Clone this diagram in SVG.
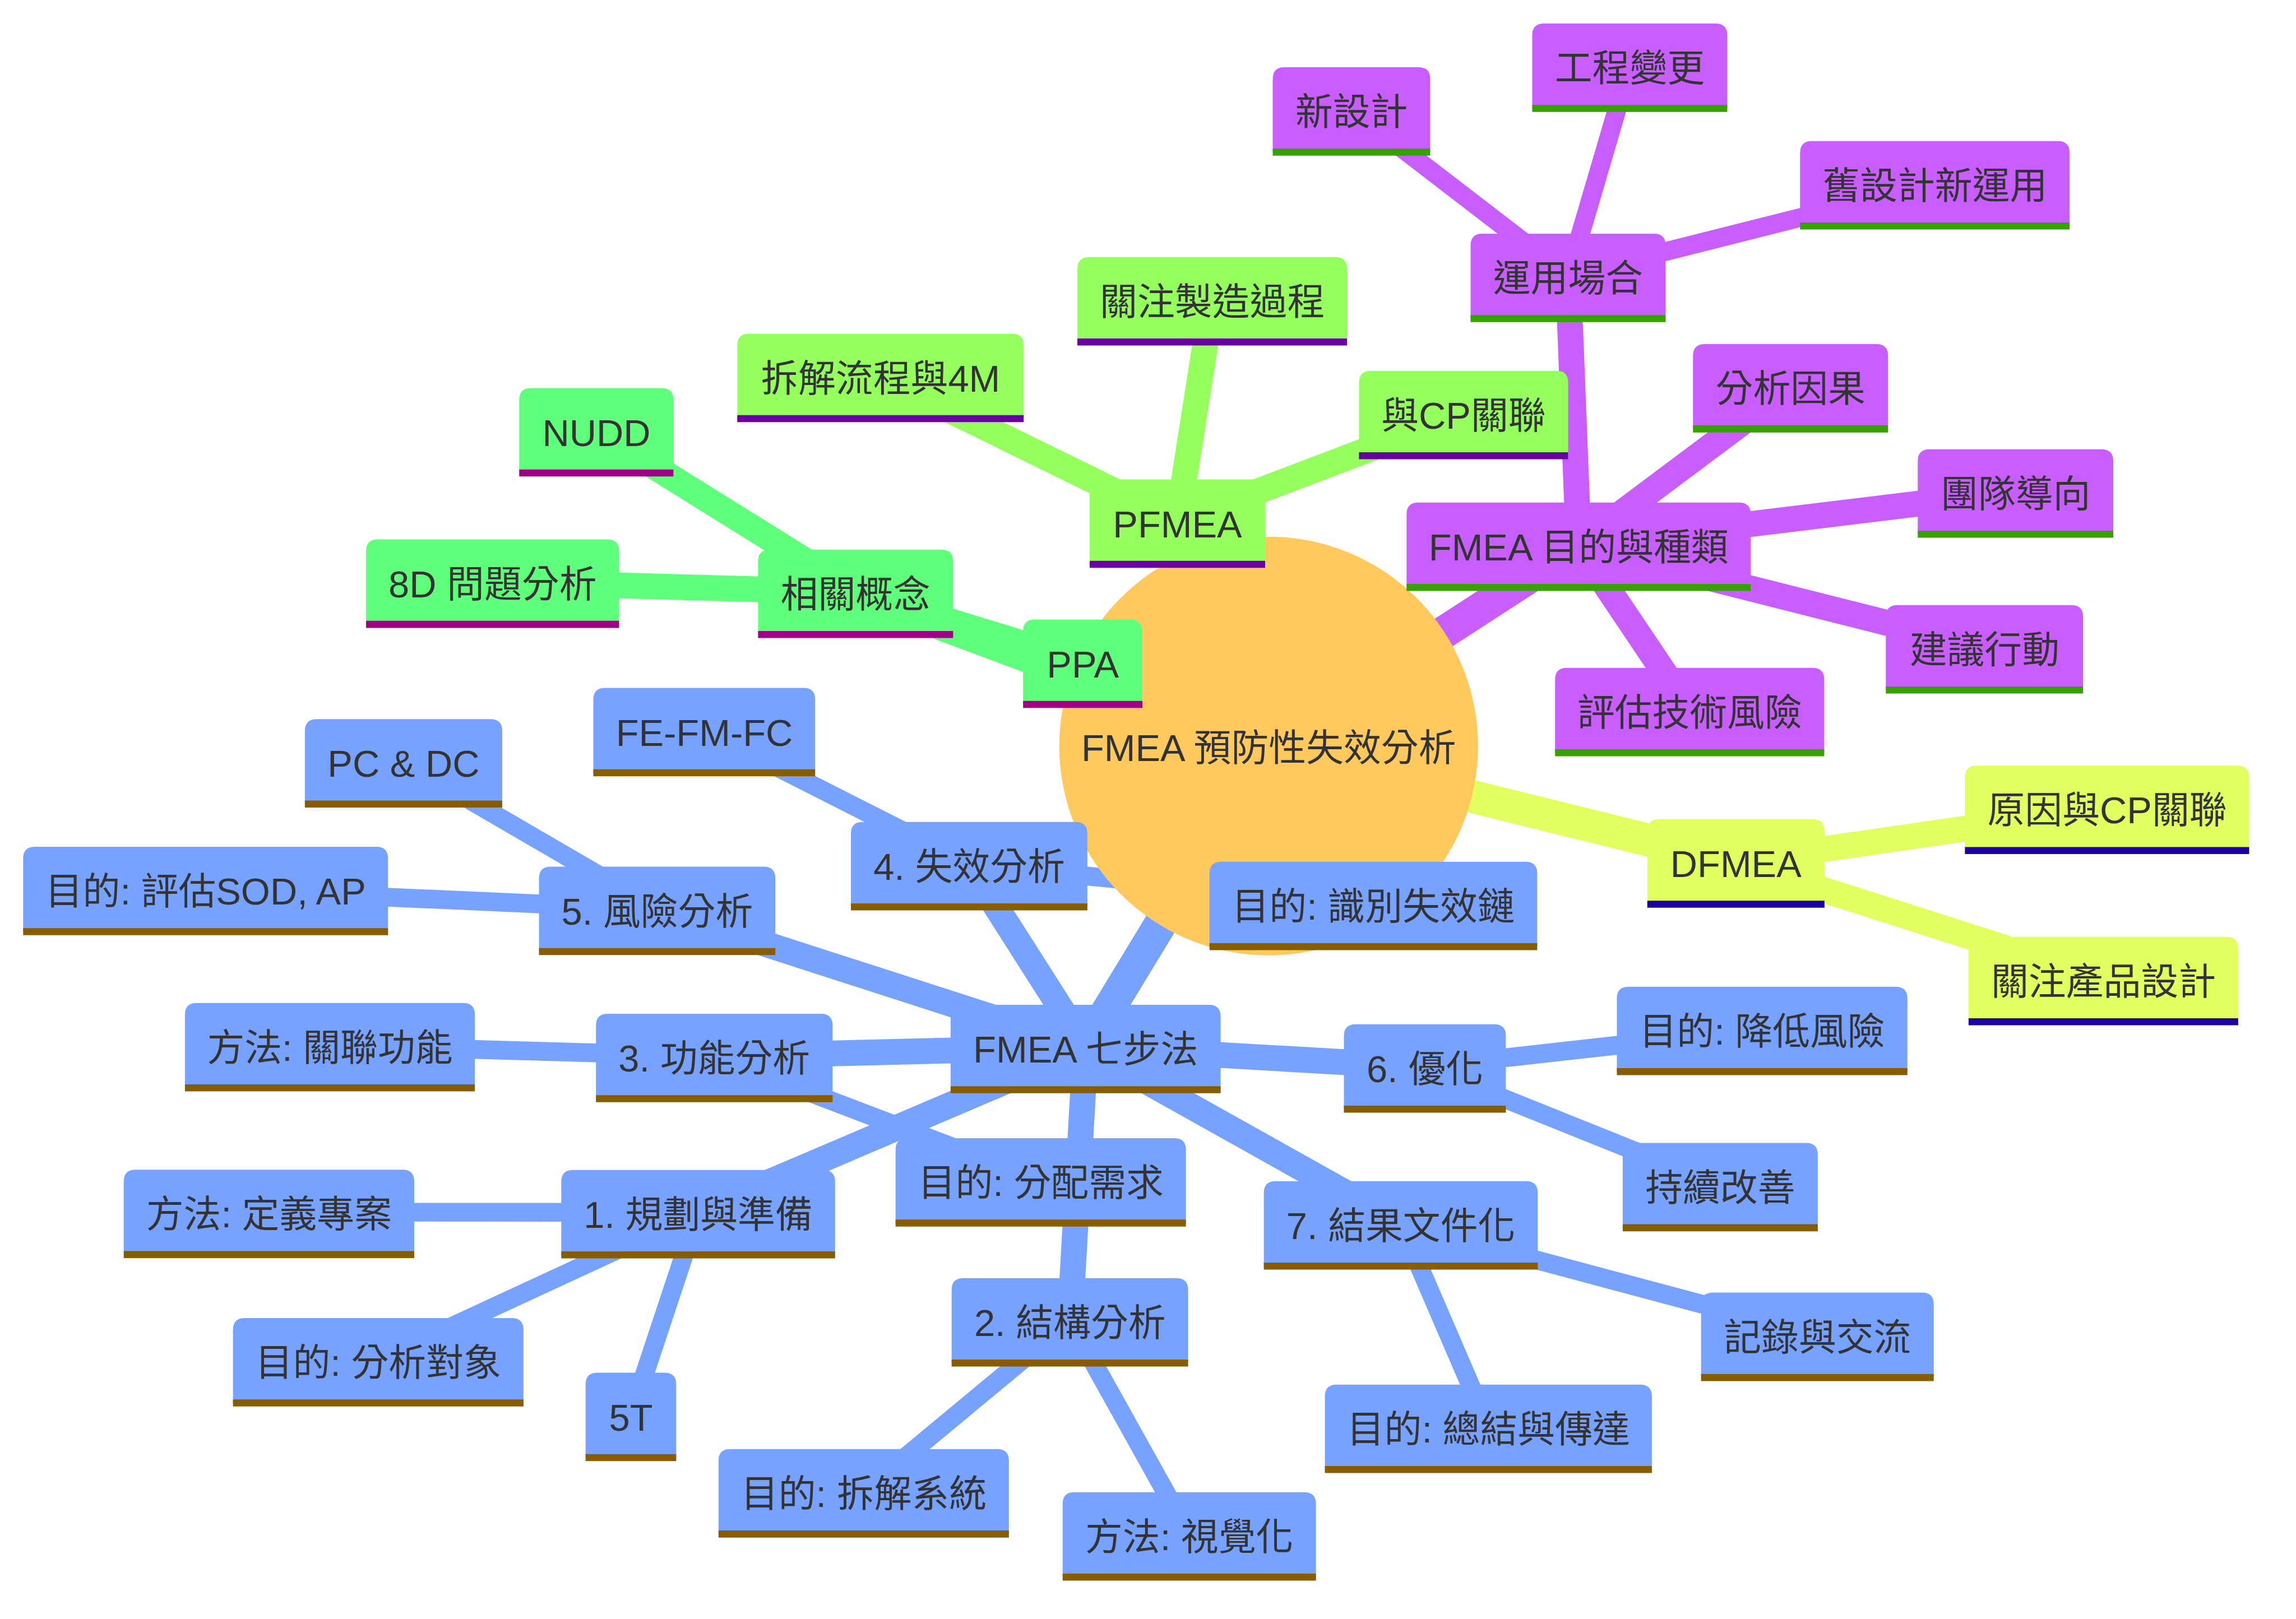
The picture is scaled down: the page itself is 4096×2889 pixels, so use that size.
<svg xmlns="http://www.w3.org/2000/svg" width="4096" height="2889" viewBox="0 0 4096 2889">
<style>
text{font-family:"Liberation Sans","Noto Sans CJK TC",sans-serif;font-size:25.6px;fill:#333333;text-anchor:middle}
.edge{fill:none;stroke-linecap:butt}
.e0{stroke-width:22.4}.e1{stroke-width:17.6}.e2{stroke-width:12.8}
.cb{stroke:#78A2FF}.cp{stroke:#C95EFF}.cl{stroke:#95FF5E}.cg{stroke:#5FFF7C}.cy{stroke:#E1FF5E}
.node line{stroke-width:4.8}
.sb path{fill:#78A2FF}.sb line{stroke:#875D00}
.sp path{fill:#C95EFF}.sp line{stroke:#36A100}
.sl path{fill:#95FF5E}.sl line{stroke:#6A00A1}
.sg path{fill:#5FFF7C}.sg line{stroke:#A00083}
.sy path{fill:#E1FF5E}.sy line{stroke:#1E00A1}
</style>
<rect x="0" y="0" width="4096" height="2889" fill="#FFFFFF"/>
<g transform="scale(2.612245)">
<g id="connectors">
<line class="edge e0 cp" x1="866.4" y1="509.6" x2="1078.1" y2="372.3"/>
<line class="edge e0 cl" x1="866.4" y1="509.6" x2="804.1" y2="356.5"/>
<line class="edge e0 cg" x1="866.4" y1="509.6" x2="584.3" y2="404.4"/>
<line class="edge e0 cy" x1="866.4" y1="509.6" x2="1185.5" y2="588.7"/>
<line class="edge e0 cb" x1="866.4" y1="509.6" x2="741.4" y2="715.4"/>
<line class="edge e1 cp" x1="1078.1" y1="372.3" x2="1070.9" y2="188.6"/>
<line class="edge e1 cp" x1="1078.1" y1="372.3" x2="1222.8" y2="264.0"/>
<line class="edge e1 cp" x1="1078.1" y1="372.3" x2="1376.5" y2="335.9"/>
<line class="edge e1 cp" x1="1078.1" y1="372.3" x2="1355.3" y2="442.3"/>
<line class="edge e1 cp" x1="1078.1" y1="372.3" x2="1153.9" y2="485.2"/>
<line class="edge e2 cp" x1="1070.9" y1="188.6" x2="923.0" y2="74.9"/>
<line class="edge e2 cp" x1="1070.9" y1="188.6" x2="1113.0" y2="45.1"/>
<line class="edge e2 cp" x1="1070.9" y1="188.6" x2="1321.4" y2="125.4"/>
<line class="edge e1 cl" x1="804.1" y1="356.5" x2="827.9" y2="204.6"/>
<line class="edge e1 cl" x1="804.1" y1="356.5" x2="601.3" y2="257.0"/>
<line class="edge e1 cl" x1="804.1" y1="356.5" x2="999.5" y2="282.3"/>
<line class="edge e1 cg" x1="584.3" y1="404.4" x2="407.3" y2="294.1"/>
<line class="edge e1 cg" x1="584.3" y1="404.4" x2="336.4" y2="397.5"/>
<line class="edge e1 cg" x1="584.3" y1="404.4" x2="739.5" y2="452.2"/>
<line class="edge e1 cy" x1="1185.5" y1="588.7" x2="1439.0" y2="552.0"/>
<line class="edge e1 cy" x1="1185.5" y1="588.7" x2="1436.5" y2="669.0"/>
<line class="edge e1 cb" x1="741.4" y1="715.4" x2="476.8" y2="828.2"/>
<line class="edge e1 cb" x1="741.4" y1="715.4" x2="730.7" y2="902.1"/>
<line class="edge e1 cb" x1="741.4" y1="715.4" x2="487.8" y2="721.5"/>
<line class="edge e1 cb" x1="741.4" y1="715.4" x2="661.9" y2="590.5"/>
<line class="edge e1 cb" x1="741.4" y1="715.4" x2="448.8" y2="621.0"/>
<line class="edge e1 cb" x1="741.4" y1="715.4" x2="973.1" y2="728.7"/>
<line class="edge e1 cb" x1="741.4" y1="715.4" x2="956.7" y2="835.9"/>
<line class="edge e2 cb" x1="476.8" y1="828.2" x2="183.7" y2="828.0"/>
<line class="edge e2 cb" x1="476.8" y1="828.2" x2="258.3" y2="929.4"/>
<line class="edge e2 cb" x1="476.8" y1="828.2" x2="430.9" y2="966.7"/>
<line class="edge e2 cb" x1="730.7" y1="902.1" x2="589.9" y2="1018.9"/>
<line class="edge e2 cb" x1="730.7" y1="902.1" x2="812.2" y2="1048.3"/>
<line class="edge e2 cb" x1="487.8" y1="721.5" x2="225.3" y2="714.1"/>
<line class="edge e2 cb" x1="487.8" y1="721.5" x2="710.8" y2="806.5"/>
<line class="edge e2 cb" x1="661.9" y1="590.5" x2="481.0" y2="498.9"/>
<line class="edge e2 cb" x1="661.9" y1="590.5" x2="937.9" y2="617.7"/>
<line class="edge e2 cb" x1="448.8" y1="621.0" x2="275.6" y2="520.2"/>
<line class="edge e2 cb" x1="448.8" y1="621.0" x2="140.4" y2="607.4"/>
<line class="edge e2 cb" x1="973.1" y1="728.7" x2="1203.4" y2="703.0"/>
<line class="edge e2 cb" x1="973.1" y1="728.7" x2="1174.8" y2="809.7"/>
<line class="edge e2 cb" x1="956.7" y1="835.9" x2="1241.2" y2="912.0"/>
<line class="edge e2 cb" x1="956.7" y1="835.9" x2="1016.5" y2="974.8"/>
</g>
<g id="root">
<circle cx="866.4" cy="509.6" r="143" fill="#FFC95E"/>
<text x="866.4" y="520">FMEA 預防性失效分析</text>
</g>
<g id="n-purpose" class="node sp"><path d="M960.6,401.3V351.3Q960.6,343.3 968.6,343.3H1187.6Q1195.6,343.3 1195.6,351.3V401.3Z"/><line x1="960.6" y1="401.3" x2="1195.6" y2="401.3"/><text x="1078.1" y="382.8">FMEA 目的與種類</text></g>
<g id="n-usage" class="node sp"><path d="M1004.3,217.6V167.6Q1004.3,159.6 1012.3,159.6H1129.5Q1137.5,159.6 1137.5,167.6V217.6Z"/><line x1="1004.3" y1="217.6" x2="1137.5" y2="217.6"/><text x="1070.9" y="199.1">運用場合</text></g>
<g id="n-newdesign" class="node sp"><path d="M869.2,103.9V53.9Q869.2,45.9 877.2,45.9H968.7Q976.7,45.9 976.7,53.9V103.9Z"/><line x1="869.2" y1="103.9" x2="976.7" y2="103.9"/><text x="923.0" y="85.4">新設計</text></g>
<g id="n-ecn" class="node sp"><path d="M1046.4,74.1V24.1Q1046.4,16.1 1054.4,16.1H1171.6Q1179.6,16.1 1179.6,24.1V74.1Z"/><line x1="1046.4" y1="74.1" x2="1179.6" y2="74.1"/><text x="1113.0" y="55.6">工程變更</text></g>
<g id="n-olddesign" class="node sp"><path d="M1229.3,154.4V104.4Q1229.3,96.4 1237.3,96.4H1405.4Q1413.4,96.4 1413.4,104.4V154.4Z"/><line x1="1229.3" y1="154.4" x2="1413.4" y2="154.4"/><text x="1321.4" y="135.9">舊設計新運用</text></g>
<g id="n-cause" class="node sp"><path d="M1156.2,293V243Q1156.2,235 1164.2,235H1281.4Q1289.4,235 1289.4,243V293Z"/><line x1="1156.2" y1="293" x2="1289.4" y2="293"/><text x="1222.8" y="274.5">分析因果</text></g>
<g id="n-team" class="node sp"><path d="M1309.7,364.9V314.9Q1309.7,306.9 1317.7,306.9H1435.2Q1443.2,306.9 1443.2,314.9V364.9Z"/><line x1="1309.7" y1="364.9" x2="1443.2" y2="364.9"/><text x="1376.5" y="346.4">團隊導向</text></g>
<g id="n-action" class="node sp"><path d="M1287.9,471.3V421.3Q1287.9,413.3 1295.9,413.3H1414.6Q1422.6,413.3 1422.6,421.3V471.3Z"/><line x1="1287.9" y1="471.3" x2="1422.6" y2="471.3"/><text x="1355.3" y="452.8">建議行動</text></g>
<g id="n-techrisk" class="node sp"><path d="M1062,514.2V464.2Q1062,456.2 1070,456.2H1237.8Q1245.8,456.2 1245.8,464.2V514.2Z"/><line x1="1062" y1="514.2" x2="1245.8" y2="514.2"/><text x="1153.9" y="495.7">評估技術風險</text></g>
<g id="n-pfmea" class="node sl"><path d="M744.2,385.5V335.5Q744.2,327.5 752.2,327.5H856Q864,327.5 864,335.5V385.5Z"/><line x1="744.2" y1="385.5" x2="864" y2="385.5"/><text x="804.1" y="367.0">PFMEA</text></g>
<g id="n-mfg" class="node sl"><path d="M735.8,233.6V183.6Q735.8,175.6 743.8,175.6H911.9Q919.9,175.6 919.9,183.6V233.6Z"/><line x1="735.8" y1="233.6" x2="919.9" y2="233.6"/><text x="827.9" y="215.1">關注製造過程</text></g>
<g id="n-4m" class="node sl"><path d="M503.5,286V236Q503.5,228 511.5,228H691.1Q699.1,228 699.1,236V286Z"/><line x1="503.5" y1="286" x2="699.1" y2="286"/><text x="601.3" y="267.5">拆解流程與4M</text></g>
<g id="n-cp1" class="node sl"><path d="M928.1,311.3V261.3Q928.1,253.3 936.1,253.3H1062.9Q1070.9,253.3 1070.9,261.3V311.3Z"/><line x1="928.1" y1="311.3" x2="1070.9" y2="311.3"/><text x="999.5" y="292.8">與CP關聯</text></g>
<g id="n-related" class="node sg"><path d="M517.7,433.4V383.4Q517.7,375.4 525.7,375.4H642.9Q650.9,375.4 650.9,383.4V433.4Z"/><line x1="517.7" y1="433.4" x2="650.9" y2="433.4"/><text x="584.3" y="414.9">相關概念</text></g>
<g id="n-nudd" class="node sg"><path d="M354.6,323.1V273.1Q354.6,265.1 362.6,265.1H451.9Q459.9,265.1 459.9,273.1V323.1Z"/><line x1="354.6" y1="323.1" x2="459.9" y2="323.1"/><text x="407.3" y="304.6">NUDD</text></g>
<g id="n-8d" class="node sg"><path d="M250,426.5V376.5Q250,368.5 258,368.5H414.8Q422.8,368.5 422.8,376.5V426.5Z"/><line x1="250" y1="426.5" x2="422.8" y2="426.5"/><text x="336.4" y="408.0">8D 問題分析</text></g>
<g id="n-ppa" class="node sg"><path d="M698.7,481.2V431.2Q698.7,423.2 706.7,423.2H772.2Q780.2,423.2 780.2,431.2V481.2Z"/><line x1="698.7" y1="481.2" x2="780.2" y2="481.2"/><text x="739.5" y="462.7">PPA</text></g>
<g id="n-dfmea" class="node sy"><path d="M1125,617.7V567.7Q1125,559.7 1133,559.7H1238Q1246,559.7 1246,567.7V617.7Z"/><line x1="1125" y1="617.7" x2="1246" y2="617.7"/><text x="1185.5" y="599.2">DFMEA</text></g>
<g id="n-cp2" class="node sy"><path d="M1341.9,581V531Q1341.9,523 1349.9,523H1528Q1536,523 1536,531V581Z"/><line x1="1341.9" y1="581" x2="1536" y2="581"/><text x="1439.0" y="562.5">原因與CP關聯</text></g>
<g id="n-product" class="node sy"><path d="M1344.4,698V648Q1344.4,640 1352.4,640H1520.5Q1528.5,640 1528.5,648V698Z"/><line x1="1344.4" y1="698" x2="1528.5" y2="698"/><text x="1436.5" y="679.5">關注產品設計</text></g>
<g id="n-7steps" class="node sb"><path d="M649.2,744.4V694.4Q649.2,686.4 657.2,686.4H825.6Q833.6,686.4 833.6,694.4V744.4Z"/><line x1="649.2" y1="744.4" x2="833.6" y2="744.4"/><text x="741.4" y="725.9">FMEA 七步法</text></g>
<g id="n-s1" class="node sb"><path d="M383.3,857.2V807.2Q383.3,799.2 391.3,799.2H562.3Q570.3,799.2 570.3,807.2V857.2Z"/><line x1="383.3" y1="857.2" x2="570.3" y2="857.2"/><text x="476.8" y="838.7">1. 規劃與準備</text></g>
<g id="n-s1a" class="node sb"><path d="M84.5,857V807Q84.5,799 92.5,799H274.9Q282.9,799 282.9,807V857Z"/><line x1="84.5" y1="857" x2="282.9" y2="857"/><text x="183.7" y="838.5">方法: 定義專案</text></g>
<g id="n-s1b" class="node sb"><path d="M159.1,958.4V908.4Q159.1,900.4 167.1,900.4H349.5Q357.5,900.4 357.5,908.4V958.4Z"/><line x1="159.1" y1="958.4" x2="357.5" y2="958.4"/><text x="258.3" y="939.9">目的: 分析對象</text></g>
<g id="n-s1c" class="node sb"><path d="M399.9,995.7V945.7Q399.9,937.7 407.9,937.7H453.8Q461.8,937.7 461.8,945.7V995.7Z"/><line x1="399.9" y1="995.7" x2="461.8" y2="995.7"/><text x="430.9" y="977.2">5T</text></g>
<g id="n-s2" class="node sb"><path d="M649.9,931.1V881.1Q649.9,873.1 657.9,873.1H803.4Q811.4,873.1 811.4,881.1V931.1Z"/><line x1="649.9" y1="931.1" x2="811.4" y2="931.1"/><text x="730.7" y="912.6">2. 結構分析</text></g>
<g id="n-s2a" class="node sb"><path d="M490.7,1047.9V997.9Q490.7,989.9 498.7,989.9H681Q689,989.9 689,997.9V1047.9Z"/><line x1="490.7" y1="1047.9" x2="689" y2="1047.9"/><text x="589.9" y="1029.4">目的: 拆解系統</text></g>
<g id="n-s2b" class="node sb"><path d="M725.7,1077.3V1027.3Q725.7,1019.3 733.7,1019.3H890.7Q898.7,1019.3 898.7,1027.3V1077.3Z"/><line x1="725.7" y1="1077.3" x2="898.7" y2="1077.3"/><text x="812.2" y="1058.8">方法: 視覺化</text></g>
<g id="n-s3" class="node sb"><path d="M407,750.5V700.5Q407,692.5 415,692.5H560.6Q568.6,692.5 568.6,700.5V750.5Z"/><line x1="407" y1="750.5" x2="568.6" y2="750.5"/><text x="487.8" y="732.0">3. 功能分析</text></g>
<g id="n-s3a" class="node sb"><path d="M126.3,743.1V693.1Q126.3,685.1 134.3,685.1H316.3Q324.3,685.1 324.3,693.1V743.1Z"/><line x1="126.3" y1="743.1" x2="324.3" y2="743.1"/><text x="225.3" y="724.6">方法: 關聯功能</text></g>
<g id="n-s3b" class="node sb"><path d="M611.6,835.5V785.5Q611.6,777.5 619.6,777.5H801.9Q809.9,777.5 809.9,785.5V835.5Z"/><line x1="611.6" y1="835.5" x2="809.9" y2="835.5"/><text x="710.8" y="817.0">目的: 分配需求</text></g>
<g id="n-s4" class="node sb"><path d="M581.1,619.5V569.5Q581.1,561.5 589.1,561.5H734.6Q742.6,561.5 742.6,569.5V619.5Z"/><line x1="581.1" y1="619.5" x2="742.6" y2="619.5"/><text x="661.9" y="601.0">4. 失效分析</text></g>
<g id="n-s4a" class="node sb"><path d="M405.2,527.9V477.9Q405.2,469.9 413.2,469.9H548.7Q556.7,469.9 556.7,477.9V527.9Z"/><line x1="405.2" y1="527.9" x2="556.7" y2="527.9"/><text x="481.0" y="509.4">FE-FM-FC</text></g>
<g id="n-s4b" class="node sb"><path d="M826,646.7V596.7Q826,588.7 834,588.7H1041.8Q1049.8,588.7 1049.8,596.7V646.7Z"/><line x1="826" y1="646.7" x2="1049.8" y2="646.7"/><text x="937.9" y="628.2">目的: 識別失效鏈</text></g>
<g id="n-s5" class="node sb"><path d="M368.1,650V600Q368.1,592 376.1,592H521.5Q529.5,592 529.5,600V650Z"/><line x1="368.1" y1="650" x2="529.5" y2="650"/><text x="448.8" y="631.5">5. 風險分析</text></g>
<g id="n-s5a" class="node sb"><path d="M208.2,549.2V499.2Q208.2,491.2 216.2,491.2H335Q343,491.2 343,499.2V549.2Z"/><line x1="208.2" y1="549.2" x2="343" y2="549.2"/><text x="275.6" y="530.7">PC &amp; DC</text></g>
<g id="n-s5b" class="node sb"><path d="M15.8,636.4V586.4Q15.8,578.4 23.8,578.4H257Q265,578.4 265,586.4V636.4Z"/><line x1="15.8" y1="636.4" x2="265" y2="636.4"/><text x="140.4" y="617.9">目的: 評估SOD, AP</text></g>
<g id="n-s6" class="node sb"><path d="M917.8,757.7V707.7Q917.8,699.7 925.8,699.7H1020.4Q1028.4,699.7 1028.4,707.7V757.7Z"/><line x1="917.8" y1="757.7" x2="1028.4" y2="757.7"/><text x="973.1" y="739.2">6. 優化</text></g>
<g id="n-s6a" class="node sb"><path d="M1104.2,732V682Q1104.2,674 1112.2,674H1294.6Q1302.6,674 1302.6,682V732Z"/><line x1="1104.2" y1="732" x2="1302.6" y2="732"/><text x="1203.4" y="713.5">目的: 降低風險</text></g>
<g id="n-s6b" class="node sb"><path d="M1108.2,838.7V788.7Q1108.2,780.7 1116.2,780.7H1233.4Q1241.4,780.7 1241.4,788.7V838.7Z"/><line x1="1108.2" y1="838.7" x2="1241.4" y2="838.7"/><text x="1174.8" y="820.2">持續改善</text></g>
<g id="n-s7" class="node sb"><path d="M863.1,864.9V814.9Q863.1,806.9 871.1,806.9H1042.2Q1050.2,806.9 1050.2,814.9V864.9Z"/><line x1="863.1" y1="864.9" x2="1050.2" y2="864.9"/><text x="956.7" y="846.4">7. 結果文件化</text></g>
<g id="n-s7a" class="node sb"><path d="M1161.7,941V891Q1161.7,883 1169.7,883H1312.6Q1320.6,883 1320.6,891V941Z"/><line x1="1161.7" y1="941" x2="1320.6" y2="941"/><text x="1241.2" y="922.5">記錄與交流</text></g>
<g id="n-s7b" class="node sb"><path d="M904.8,1003.8V953.8Q904.8,945.8 912.8,945.8H1120.1Q1128.1,945.8 1128.1,953.8V1003.8Z"/><line x1="904.8" y1="1003.8" x2="1128.1" y2="1003.8"/><text x="1016.5" y="985.3">目的: 總結與傳達</text></g>
</g>
</svg>
